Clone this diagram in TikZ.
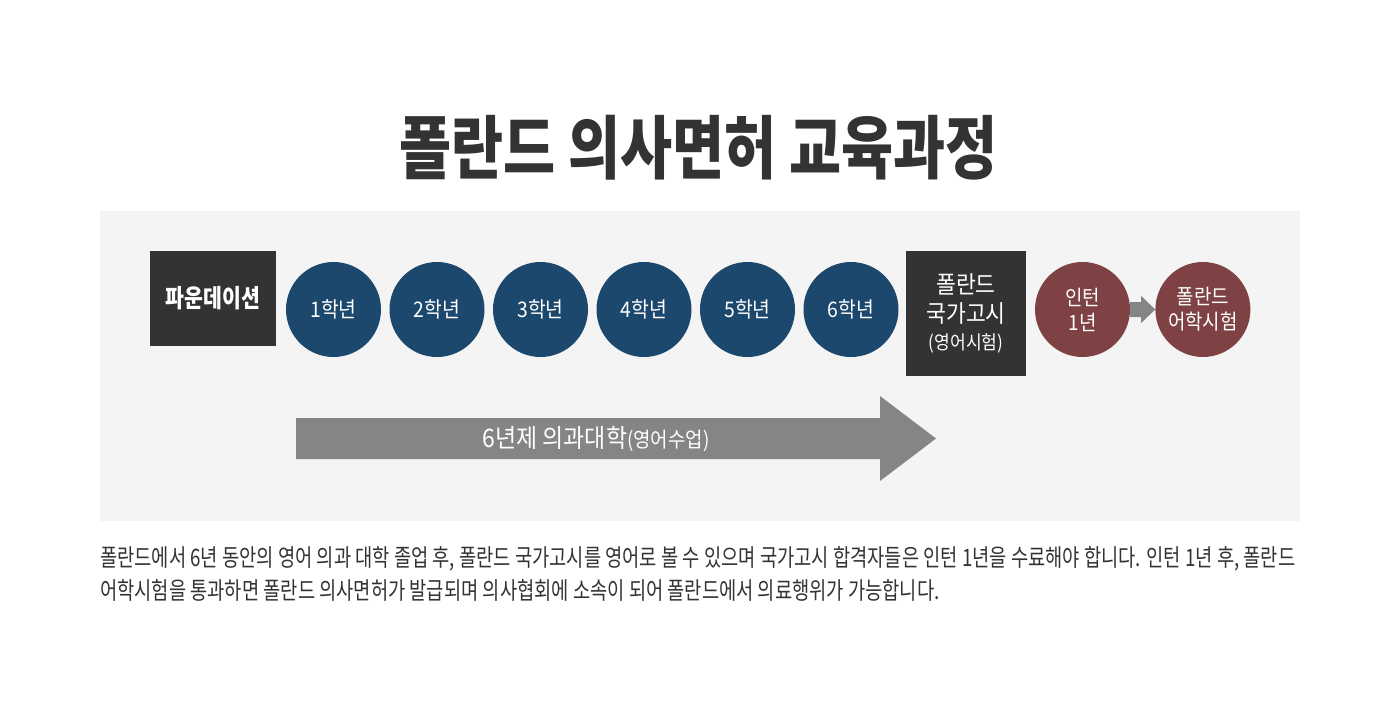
\documentclass[tikz,border=0pt]{standalone}
\usepackage{fontspec}
\setmainfont[FakeStretch=0.9]{Noto Sans CJK KR}
\newfontfamily\heavyfont[FakeStretch=0.82]{Noto Sans CJK KR}
\newfontfamily\bodyfont[FakeStretch=0.78]{Noto Sans CJK KR}
\usepackage{tikz}
\usetikzlibrary{positioning}

\definecolor{panelgray}{HTML}{F4F4F4}
\definecolor{boxdark}{HTML}{333333}
\definecolor{yearblue}{HTML}{1B486C}
\definecolor{internred}{HTML}{7F4244}
\definecolor{arrowgray}{HTML}{858585}
\definecolor{textdark}{HTML}{333333}

\begin{document}
\begin{tikzpicture}[x=1pt,y=-1pt,
    darkbox/.style={fill=boxdark, text=white, inner sep=0pt, align=center},
    yearball/.style={circle, fill=yearblue, text=white, minimum size=95pt, inner sep=0pt,
        font=\fontsize{21.5}{24}\selectfont},
    redball/.style={circle, fill=internred, text=white, minimum size=95pt, inner sep=0pt,
        align=center, font=\fontsize{21}{25}\selectfont},
    bodytext/.style={anchor=west, text=textdark, inner sep=0pt, font=\bodyfont\fontsize{24}{26}\selectfont}]
                \useasboundingbox (0,0) rectangle (1400,722);
                \fill[panelgray] (100,211) rectangle (1300,521);

                \node[text=textdark, font=\heavyfont\bfseries\fontsize{69}{74}\selectfont] (title) at (698.5,147.5) {폴란드 의사면허 교육과정};

                \node[darkbox, minimum width=126pt, minimum height=95pt, font=\heavyfont\bfseries\fontsize{25}{28}\selectfont] (found) at (213,298.5) {파운데이션};

                \node[yearball] (y1) at (333.5,309.5) {1학년};
                \node[yearball, right=8.1pt of y1] (y2) {2학년};
                \node[yearball, right=8.1pt of y2] (y3) {3학년};
                \node[yearball, right=8.1pt of y3] (y4) {4학년};
                \node[yearball, right=8.1pt of y4] (y5) {5학년};
                \node[yearball, right=8.1pt of y5] (y6) {6학년};

                \node[darkbox, minimum width=120pt, minimum height=125pt, font=\fontsize{24}{29}\selectfont] (exam) at (966,313.5)
                    {폴란드\\국가고시\\[-2pt]{\fontsize{19}{22}\selectfont(영어시험)}};

                \node[redball] (intern) at (1082.5,309.5) {인턴\\1년};
                \node[redball, right=25pt of intern] (rlang) {폴란드\\어학시험};

                \fill[arrowgray] ([yshift=7.5pt]intern.east) -- ++(11,0) -- ++(0,-6) -- (rlang.west)
                    -- ++(-14,13.5) -- ++(0,-6) -- ([yshift=-7.5pt]intern.east) -- cycle;

                \coordinate (A) at (296,418);
                \coordinate (B) at (880,418);
                \coordinate (C) at (880,396);
                \coordinate (D) at (936,438.5);
                \coordinate (E) at (880,481);
                \coordinate (F) at (880,459);
                \coordinate (G) at (296,459);
                \fill[arrowgray] (A)-- (B)-- (C)-- (D)-- (E)-- (F)-- (G)-- cycle;
                \node[text=white, font=\fontsize{25.5}{28}\selectfont] (school) at (596,438.5)
                    {6년제 의과대학{\fontsize{21}{24}\selectfont(영어수업)}};

                \node[bodytext] (line1) at (100,559) {폴란드에서 6년 동안의 영어 의과 대학 졸업 후, 폴란드 국가고시를 영어로 볼 수 있으며 국가고시 합격자들은 인턴 1년을 수료해야 합니다. 인턴 1년 후, 폴란드};
                \node[bodytext] (line2) at (100,590) {어학시험을 통과하면 폴란드 의사면허가 발급되며 의사협회에 소속이 되어 폴란드에서 의료행위가 가능합니다.};

            \end{tikzpicture}
\end{document}
